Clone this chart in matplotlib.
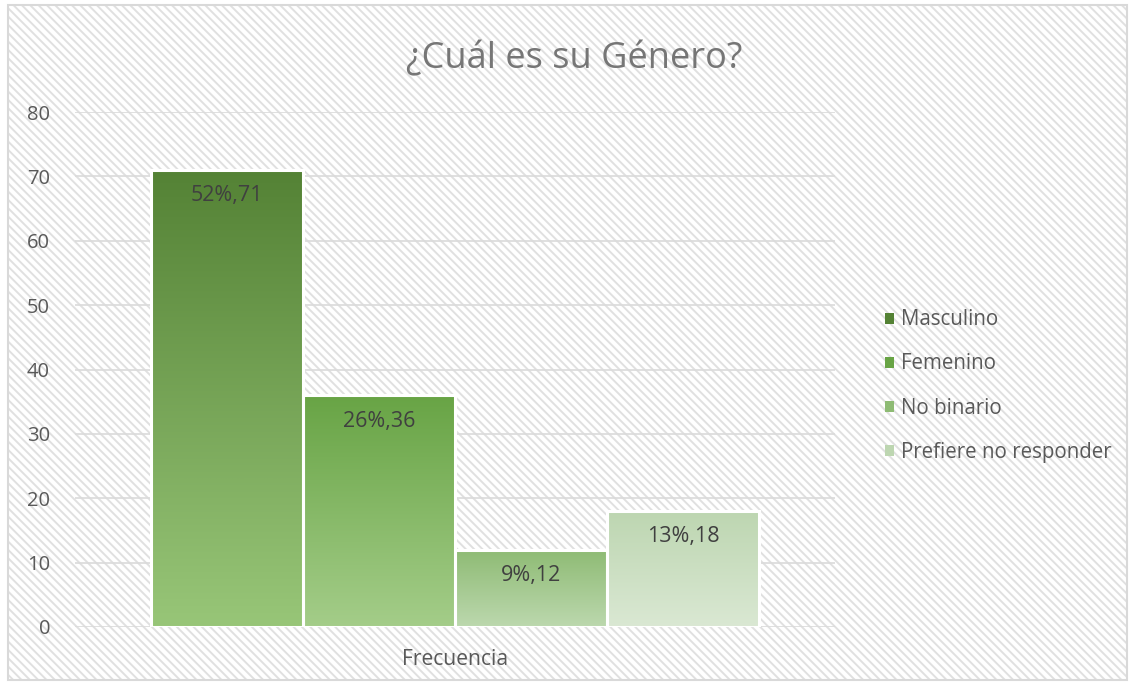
import matplotlib
matplotlib.use("Agg")
import matplotlib.pyplot as plt
import numpy as np
from matplotlib.patches import Rectangle
from matplotlib.colors import LinearSegmentedColormap

categories = ["Masculino", "Femenino", "No binario", "Prefiere no responder"]
values = [71, 36, 12, 18]
percents = ["52%", "26%", "9%", "13%"]
group_label = "Frecuencia"
title = "¿Cuál es su Género?"
yticks = [0, 10, 20, 30, 40, 50, 60, 70, 80]

top_colors = ["#548235", "#68A445", "#8EBB74", "#BDD6B1"]
bottom_colors = ["#98C678", "#A4CD89", "#BCD8AE", "#DAE8D3"]

plt.rcParams['font.family'] = ['Open Sans', 'DejaVu Sans']
plt.rcParams['hatch.linewidth'] = 1.4

W, H = 1133, 685
fig = plt.figure(figsize=(W / 100, H / 100), dpi=100)
fig.patch.set_facecolor("white")

# hatched background with border
bg = Rectangle((8 / W, 5 / H), (1127 - 8) / W, (680 - 5) / H, transform=fig.transFigure,
               facecolor="white", edgecolor="#E0E0E0", hatch="\\\\\\\\", lw=0, zorder=-10)
fig.patches.append(bg)
border = Rectangle((8 / W, 5 / H), (1127 - 8) / W, (680 - 5) / H, transform=fig.transFigure,
                   facecolor="none", edgecolor="#D9D9D9", lw=1.5, zorder=-9)
fig.patches.append(border)

ax = fig.add_axes([75 / W, 1 - 627 / H, (835 - 75) / W, (627 - 112) / H])
ax.set_facecolor("none")
ax.set_xlim(-0.5, 0.5)
ax.set_ylim(0, 80)

n = len(values)
width = 0.2
xs = (np.arange(n) - (n - 1) / 2) * width

for y in yticks:
    ax.axhline(y, color="#DADADA", lw=1.2, zorder=1)

bars = ax.bar(xs, values, width=width, facecolor="none", edgecolor="white", lw=2.2,
              zorder=3)

grad = np.linspace(1, 0, 256).reshape(-1, 1)
for i, b in enumerate(bars):
    x0, y0 = b.get_x(), b.get_y()
    w, h = b.get_width(), b.get_height()
    cmap = LinearSegmentedColormap.from_list("g%d" % i, [bottom_colors[i], top_colors[i]])
    im = ax.imshow(grad, cmap=cmap, extent=[x0, x0 + w, y0, y0 + h], aspect="auto",
                   origin="upper", zorder=2, vmin=0, vmax=1)
    clip = Rectangle((x0, y0), w, h, transform=ax.transData, facecolor="none", edgecolor="none")
    ax.add_patch(clip)
    im.set_clip_path(clip)
    ax.text(xs[i], values[i] - 4.0, f"{percents[i]},{values[i]}", ha="center", va="center",
            fontsize=15.5, color="#404040", zorder=4)

ax.set_xlim(-0.5, 0.5)
ax.set_ylim(0, 80)
ax.set_yticks(yticks)
ax.set_yticklabels([str(v) for v in yticks], fontsize=14.5, color="#595959")
ax.tick_params(axis="y", length=0, pad=18)
ax.set_xticks([0])
ax.set_xticklabels([group_label], fontsize=15.2, color="#595959")
ax.tick_params(axis="x", length=0, pad=16)
for s in ax.spines.values():
    s.set_visible(False)

fig.text(0.507, 1 - 59 / H, title, ha="center", va="center", fontsize=26, color="#767676")

# legend
handles = [Rectangle((0, 0), 1, 1, facecolor=top_colors[i], edgecolor="none") for i in range(n)]
leg = fig.legend(handles, categories, loc="center left", bbox_to_anchor=(866 / W, 1 - 386 / H),
                 frameon=False, fontsize=14.8, labelcolor="#595959", handlelength=0.45,
                 handleheight=0.45, handletextpad=0.35, labelspacing=1.12)
leg.set_zorder(5)

fig.savefig("out.png", dpi=100, facecolor="white")
